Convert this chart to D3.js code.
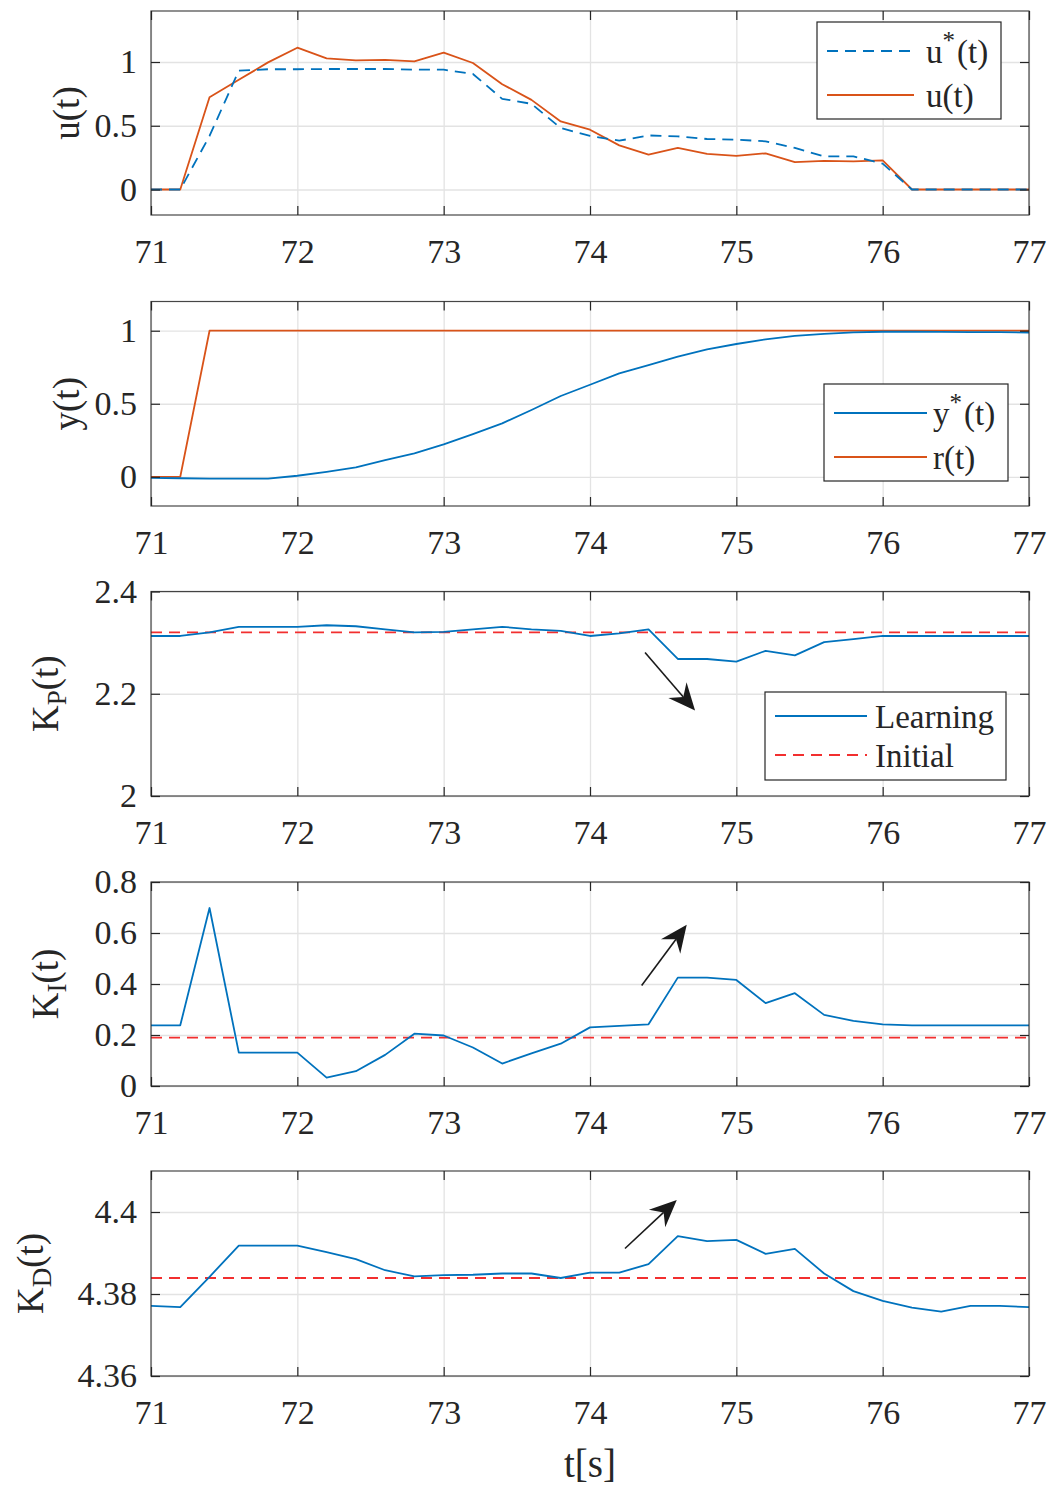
<!DOCTYPE html>
<html>
<head>
<meta charset="utf-8">
<script src="https://cdn.jsdelivr.net/npm/d3@7"></script>
<style>
  body { margin: 0; background: #fff; }
  svg { display: block; }
  text { font-family: "Liberation Serif", "Times New Roman", serif; fill: #262626; }
</style>
</head>
<body>
<svg id="chart" width="1052" height="1486"></svg>
<script>
// Sample times (s)
const time = [71, 71.2, 71.4, 71.6, 71.8, 72, 72.2, 72.4, 72.6, 72.8, 73, 73.2, 73.4, 73.6, 73.8,
              74, 74.2, 74.4, 74.6, 74.8, 75, 75.2, 75.4, 75.6, 75.8, 76, 76.2, 76.4, 76.6, 76.8, 77];

// Control signals
const uStar = [0, 0, 0.42, 0.932, 0.943, 0.943, 0.945, 0.945, 0.945, 0.94, 0.94, 0.906, 0.711, 0.672, 0.482,
               0.42, 0.383, 0.424, 0.417, 0.396, 0.391, 0.378, 0.326, 0.26, 0.26, 0.203, 0, 0, 0, 0, 0];
const uActual = [0, 0, 0.724, 0.86, 0.997, 1.112, 1.029, 1.013, 1.016, 1.005, 1.073, 0.992, 0.826, 0.703, 0.534,
                 0.469, 0.346, 0.273, 0.326, 0.279, 0.263, 0.284, 0.214, 0.224, 0.221, 0.229, 0, 0, 0, 0, 0];

// Output and reference
const yStar = [-0.007, -0.01, -0.012, -0.012, -0.012, 0.007, 0.034, 0.064, 0.114, 0.16, 0.222, 0.292, 0.366, 0.457, 0.553,
               0.63, 0.708, 0.765, 0.822, 0.872, 0.909, 0.941, 0.964, 0.979, 0.988, 0.993, 0.993, 0.992, 0.991, 0.99, 0.987];
const reference = [0, 0, 1, 1, 1, 1, 1, 1, 1, 1, 1, 1, 1, 1, 1,
                   1, 1, 1, 1, 1, 1, 1, 1, 1, 1, 1, 1, 1, 1, 1, 1];

// PID gains (learning) and their initial values
const kp = [2.313, 2.313, 2.32, 2.331, 2.331, 2.331, 2.334, 2.332, 2.326, 2.32, 2.321, 2.326, 2.331, 2.326, 2.323,
            2.313, 2.318, 2.326, 2.268, 2.268, 2.263, 2.284, 2.275, 2.301, 2.307, 2.313, 2.313, 2.313, 2.313, 2.313, 2.313];
const ki = [0.238, 0.238, 0.698, 0.131, 0.131, 0.131, 0.033, 0.058, 0.122, 0.205, 0.198, 0.151, 0.088, 0.128, 0.166,
            0.23, 0.236, 0.242, 0.425, 0.425, 0.416, 0.325, 0.364, 0.279, 0.255, 0.242, 0.238, 0.238, 0.238, 0.238, 0.238];
const kd = [4.3771, 4.3768, 4.3842, 4.3918, 4.3918, 4.3918, 4.3902, 4.3885, 4.3858, 4.3843, 4.3846, 4.3847, 4.385, 4.385, 4.3839,
            4.3852, 4.3852, 4.3873, 4.3941, 4.3929, 4.3932, 4.3898, 4.391, 4.385, 4.3807, 4.3783, 4.3767, 4.3757, 4.3771, 4.3771, 4.3768];
const kpInitial = 2.32;
const kiInitial = 0.19;
const kdInitial = 4.3839;

// Axis ticks
const xTicks = [71, 72, 73, 74, 75, 76, 77];
const uTicks = [0, 0.5, 1];
const yTicks = [0, 0.5, 1];
const kpTicks = [2, 2.2, 2.4];
const kiTicks = [0, 0.2, 0.4, 0.6, 0.8];
const kdTicks = [4.36, 4.38, 4.4];

// Trend arrows [from, to] in data units
const kpArrow = [[74.376, 2.2805], [74.718, 2.167]];
const kiArrow = [[74.353, 0.394], [74.661, 0.632]];
const kdArrow = [[74.239, 4.3911], [74.593, 4.4029]];

const BLUE = "#0072BD", ORANGE = "#D95319", RED = "#F22F2F";
const AXIS = "#262626", GRID = "#e3e3e3";
const TICK_FONT = 34, LABEL_FONT = 37, LEGEND_FONT = 33;

const svg = d3.select("#chart");
const left = 151, right = 1029;
const x = d3.scaleLinear().domain([71, 77]).range([left, right]);

const panels = [
  { top: 11, bottom: 215, domain: [-0.2, 1.4], ticks: uTicks, label: ["u(t)"], labelX: 66,
    series: [
      { values: uStar, color: BLUE, dash: "11,7" },
      { values: uActual, color: ORANGE }
    ],
    legend: { x0: 817, y0: 22, x1: 1001, y1: 119, sx0: 827, sx1: 914, tx: 926,
      items: [{ name: "u", sup: "*", rest: "(t)", color: BLUE, dash: "11,7", y: 51 },
              { name: "u(t)", color: ORANGE, y: 95 }] } },
  { top: 301.5, bottom: 506, domain: [-0.2, 1.2], ticks: yTicks, label: ["y(t)"], labelX: 66,
    series: [
      { values: yStar, color: BLUE },
      { values: reference, color: ORANGE }
    ],
    legend: { x0: 824, y0: 384, x1: 1008, y1: 481, sx0: 834, sx1: 927, tx: 933,
      items: [{ name: "y", sup: "*", rest: "(t)", color: BLUE, y: 413 },
              { name: "r(t)", color: ORANGE, y: 457 }] } },
  { top: 591.5, bottom: 796, domain: [2, 2.4], ticks: kpTicks, label: ["K", "P", "(t)"], labelX: 45,
    series: [
      { values: kp, color: BLUE },
      { constant: kpInitial, color: RED, dash: "11,7" }
    ],
    arrow: kpArrow,
    legend: { x0: 765, y0: 692, x1: 1006, y1: 780, sx0: 775, sx1: 867, tx: 875,
      items: [{ name: "Learning", color: BLUE, y: 716 },
              { name: "Initial", color: RED, dash: "11,7", y: 755 }] } },
  { top: 882, bottom: 1086, domain: [0, 0.8], ticks: kiTicks, label: ["K", "I", "(t)"], labelX: 45,
    series: [
      { values: ki, color: BLUE },
      { constant: kiInitial, color: RED, dash: "11,7" }
    ],
    arrow: kiArrow },
  { top: 1171, bottom: 1376, domain: [4.36, 4.41], ticks: kdTicks, label: ["K", "D", "(t)"], labelX: 30,
    series: [
      { values: kd, color: BLUE },
      { constant: kdInitial, color: RED, dash: "11,7" }
    ],
    arrow: kdArrow }
];

panels.forEach((p, i) => {
  const y = d3.scaleLinear().domain(p.domain).range([p.bottom, p.top]);
  const h = p.bottom - p.top;
  const g = svg.append("g");

  // Grid
  g.append("g").attr("transform", `translate(0,${p.bottom})`)
    .call(d3.axisBottom(x).tickValues(xTicks).tickSize(-h).tickFormat(""))
    .call(a => { a.select(".domain").remove(); a.selectAll("line").attr("stroke", GRID).attr("stroke-width", 1.3); });
  g.append("g").attr("transform", `translate(${left},0)`)
    .call(d3.axisLeft(y).tickValues(p.ticks).tickSize(-(right - left)).tickFormat(""))
    .call(a => { a.select(".domain").remove(); a.selectAll("line").attr("stroke", GRID).attr("stroke-width", 1.3); });

  // Data lines (later series underneath the first one)
  const clipId = "clip" + i;
  svg.append("clipPath").attr("id", clipId).append("rect")
    .attr("x", left).attr("y", p.top).attr("width", right - left).attr("height", h);
  const lines = g.append("g").attr("clip-path", `url(#${clipId})`);
  const lineGen = d3.line().x((d, k) => x(time[k])).y(d => y(d));
  p.series.slice().reverse().forEach(s => {
    if (s.constant !== undefined) {
      lines.append("line")
        .attr("x1", x(71)).attr("x2", x(77))
        .attr("y1", y(s.constant)).attr("y2", y(s.constant))
        .attr("stroke", s.color).attr("stroke-width", 1.8)
        .attr("stroke-dasharray", s.dash || null);
    } else {
      lines.append("path").datum(s.values)
        .attr("d", lineGen).attr("fill", "none")
        .attr("stroke", s.color).attr("stroke-width", 1.8)
        .attr("stroke-linejoin", "round")
        .attr("stroke-dasharray", s.dash || null);
    }
  });

  // Axes with inward ticks
  const tickStyle = a => {
    a.select(".domain").remove();
    a.selectAll("line").attr("stroke", AXIS).attr("stroke-width", 1.2);
    a.selectAll("text").attr("fill", AXIS).style("font-size", TICK_FONT + "px")
      .style("font-family", '"Liberation Serif", "Times New Roman", serif');
  };
  g.append("g").attr("transform", `translate(0,${p.bottom})`)
    .call(d3.axisBottom(x).tickValues(xTicks).tickSize(-9).tickPadding(24).tickFormat(d3.format("d")))
    .call(tickStyle);
  g.append("g").attr("transform", `translate(0,${p.top})`)
    .call(d3.axisTop(x).tickValues(xTicks).tickSize(-9).tickFormat(""))
    .call(tickStyle);
  g.append("g").attr("transform", `translate(${left},0)`)
    .call(d3.axisLeft(y).tickValues(p.ticks).tickSize(-9).tickPadding(14).tickFormat(d3.format("~g")))
    .call(tickStyle);
  g.append("g").attr("transform", `translate(${right},0)`)
    .call(d3.axisRight(y).tickValues(p.ticks).tickSize(-9).tickFormat(""))
    .call(tickStyle);

  // Box
  g.append("rect").attr("x", left).attr("y", p.top).attr("width", right - left).attr("height", h)
    .attr("fill", "none").attr("stroke", AXIS).attr("stroke-width", 1.2).attr("opacity", 0.85);

  // Y label
  const lbl = g.append("text")
    .attr("transform", `translate(${p.labelX},${(p.top + p.bottom) / 2}) rotate(-90)`)
    .attr("text-anchor", "middle").attr("dy", "0.35em")
    .style("font-size", LABEL_FONT + "px");
  lbl.append("tspan").text(p.label[0]);
  if (p.label.length > 1) {
    lbl.append("tspan").attr("baseline-shift", "-30%").style("font-size", "27px").text(p.label[1]);
    lbl.append("tspan").text(p.label[2]);
  }

  // Trend arrow
  if (p.arrow) {
    const [a, b] = p.arrow.map(d => [x(d[0]), y(d[1])]);
    const dx = b[0] - a[0], dy = b[1] - a[1];
    const len = Math.hypot(dx, dy);
    const ux = dx / len, uy = dy / len, nx = -uy, ny = ux;
    const L = 27, W = 12, notch = 9;
    const base = [b[0] - ux * L, b[1] - uy * L];
    const inner = [b[0] - ux * (L - notch), b[1] - uy * (L - notch)];
    g.append("line").attr("x1", a[0]).attr("y1", a[1]).attr("x2", inner[0]).attr("y2", inner[1])
      .attr("stroke", "#1a1a1a").attr("stroke-width", 1.6);
    g.append("path")
      .attr("d", d3.line()([b, [base[0] + nx * W, base[1] + ny * W], inner, [base[0] - nx * W, base[1] - ny * W]]) + "Z")
      .attr("fill", "#1a1a1a");
  }

  // Legend
  if (p.legend) {
    const lg = p.legend;
    g.append("rect").attr("x", lg.x0).attr("y", lg.y0).attr("width", lg.x1 - lg.x0).attr("height", lg.y1 - lg.y0)
      .attr("fill", "#fff").attr("stroke", AXIS).attr("stroke-width", 1.2);
    lg.items.forEach(it => {
      g.append("line").attr("x1", lg.sx0).attr("x2", lg.sx1).attr("y1", it.y).attr("y2", it.y)
        .attr("stroke", it.color).attr("stroke-width", 1.8).attr("stroke-dasharray", it.dash || null);
      const t = g.append("text").attr("x", lg.tx).attr("y", it.y).attr("dy", "0.36em")
        .style("font-size", LEGEND_FONT + "px");
      if (it.sup) {
        t.append("tspan").text(it.name);
        t.append("tspan").attr("baseline-shift", "55%").style("font-size", "25px").text(it.sup);
        t.append("tspan").attr("dx", 2).text(it.rest);
      } else {
        t.text(it.name);
      }
    });
  }
});

// X label
svg.append("text").attr("x", x(74)).attr("y", 1477).attr("text-anchor", "middle")
  .style("font-size", "39px").text("t[s]");
</script>
</body>
</html>
